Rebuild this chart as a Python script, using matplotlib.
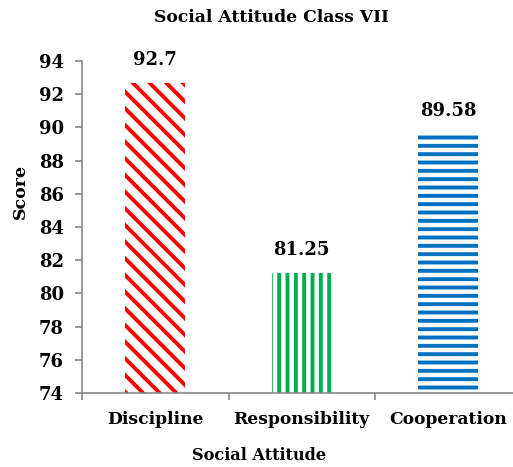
import numpy as np
import matplotlib
matplotlib.use("Agg")
import matplotlib.pyplot as plt

categories = ["Discipline", "Responsibility", "Cooperation"]
scores = [92.7, 81.25, 89.58]
score_labels = ["92.7", "81.25", "89.58"]
colors = ["#FF0000", "#00B050", "#0070C0"]
hatches = ["\\\\", "||", "--"]
yticks = np.arange(74, 95, 2)

plt.rcParams["font.family"] = ["DejaVu Serif"]
plt.rcParams["font.weight"] = "bold"
plt.rcParams["hatch.linewidth"] = 2.8

fig = plt.figure(figsize=(5.13, 4.67), dpi=100)
ax = fig.add_axes([82 / 513, 74 / 467, 439.5 / 513, 332 / 467])

x = np.arange(len(categories))
bars = ax.bar(x, scores, width=0.41, bottom=0, color="white",
              edgecolor=colors, hatch=hatches, linewidth=0)
ax.bar_label(bars, labels=score_labels, padding=10, fontsize=13,
             fontweight="bold")

ax.set_ylim(74, 94)
ax.set_xlim(-0.5, 2.5)
ax.set_yticks(yticks)
ax.set_yticklabels([str(v) for v in yticks], fontsize=13, fontweight="bold")
ax.set_xticks(x)
ax.set_xticklabels(categories, fontsize=12.3, fontweight="bold")
ax.set_xticks([-0.5, 0.5, 1.5, 2.5], minor=True)
ax.tick_params(axis="x", which="major", length=0, pad=13)
ax.tick_params(axis="x", which="minor", length=5, color="#868686", width=1.2)
ax.tick_params(axis="y", length=5, color="#868686", width=1.2, pad=8)

for side in ["top", "right"]:
    ax.spines[side].set_visible(False)
for side in ["left", "bottom"]:
    ax.spines[side].set_color("#868686")
    ax.spines[side].set_linewidth(1.2)

fig.text(271 / 513, 1 - 17 / 467, "Social Attitude Class VII", ha="center",
         va="center", fontsize=12.3, fontweight="bold")
fig.text(259 / 513, 1 - 456 / 467, "Social Attitude", ha="center",
         va="center", fontsize=11.6, fontweight="bold")
fig.text(20 / 513, 1 - 191 / 467, "Score", ha="center", va="center",
         rotation=90, fontsize=12.5, fontweight="bold")

fig.savefig("out.png", dpi=100)
